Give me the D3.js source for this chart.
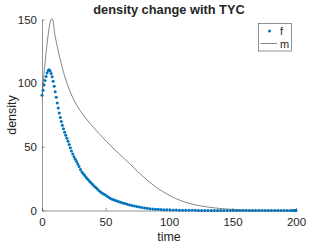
<!DOCTYPE html>
<html>
<head>
<meta charset="utf-8">
<script src="https://cdn.jsdelivr.net/npm/d3@7"></script>
<style>
  body { margin: 0; background: #fff; }
  text { font-family: "Liberation Sans", Arial, sans-serif; fill: #262626; }
</style>
</head>
<body>
<div class="chart"></div>
<script>
// ---- data ----
var fTime = [0, 0.8, 1.6, 2.4, 3.2, 4.0, 4.8, 5.6, 6.4, 7.2, 8.0, 8.8, 9.6, 10.4, 11.2, 12.0, 12.8, 13.6, 14.4, 15.2,
  16.0, 16.9, 17.8, 18.7, 19.6, 20.5, 21.4, 22.3, 23.2, 24.2, 25.2, 26.2, 27.2, 28.2, 29.2, 30.3, 31.4, 32.5, 33.6, 34.8,
  36.0, 37.2, 38.4, 39.7, 41.0, 42.3, 43.6, 45.0, 46.4, 47.8, 49.2, 50.7, 52.2, 53.7, 55.3, 56.9, 58.5, 60.2, 61.9, 63.6,
  65.4, 67.2, 69.0, 70.9, 72.8, 74.7, 76.7, 78.7, 80.8, 82.9, 85.0, 87.2, 89.4, 91.6, 93.9, 96.2, 98.5, 100.9, 103.3, 105.7,
  108.2, 110.7, 113.2, 115.7, 118.2, 120.7, 123.2, 125.7, 128.2, 130.7, 133.2, 135.7, 138.2, 140.7, 143.2, 145.7, 148.2, 150.7,
  153.2, 155.7, 158.2, 160.7, 163.2, 165.7, 168.2, 170.7, 173.2, 175.7, 178.2, 180.7, 183.2, 185.7, 188.2, 190.7, 193.2, 195.7,
  197.5, 198.6, 199.4, 200];
var fValues = [90.5, 94.5, 98.5, 102, 105.3, 108, 110, 110.5, 109.5, 107.5, 105, 101.5, 97.5, 93.2, 89, 84.5, 80.5, 76.5, 73, 69.8,
  67, 64.2, 61.5, 59, 56.8, 54.3, 51.8, 49.3, 46.8, 44.3, 42.2, 40.2, 38.4, 36.5, 34.5, 32.2, 30.3, 28.8, 27.4, 26,
  24.6, 23.2, 22, 20.6, 19.3, 18.1, 16.9, 15.5, 14.4, 13.4, 12.5, 11.5, 10.6, 9.6, 8.9, 8.2, 7.6, 7.0, 6.4, 5.9,
  5.4, 4.9, 4.4, 3.9, 3.5, 3.1, 2.7, 2.4, 2.0, 1.7, 1.45, 1.25, 1.05, 0.9, 0.75, 0.62, 0.52, 0.43, 0.36, 0.3,
  0.25, 0.2, 0.17, 0.14, 0.12, 0.1, 0.08, 0.07, 0.06, 0.05, 0.04, 0.035, 0.03, 0.025, 0.02, 0.018, 0.015, 0.012,
  0.01, 0.01, 0.008, 0.007, 0.006, 0.005, 0.004, 0.004, 0.003, 0.003, 0.002, 0.002, 0.002, 0.001, 0.001, 0.001, 0.001, 0.001,
  0, 0, 0, 0];

var mTime = [0, 1, 2, 3, 4, 5, 6, 7, 7.7, 8.5, 10, 12, 14, 16, 18, 20, 22.5, 25, 30, 35,
  40, 45, 50, 55, 60, 65, 70, 75, 80, 85, 90, 95, 100, 110, 120, 130, 140, 150, 160, 170, 185, 200];
var mValues = [90, 101, 112, 122, 131, 139, 145.5, 149.5, 150.5, 150, 139, 129, 120, 112, 105, 99, 92.5, 87, 78.5, 71.8,
  65.8, 60.3, 55, 50, 45.2, 40.5, 35.8, 30.8, 26.3, 22, 18.2, 15, 12, 7.5, 4.6, 2.8, 1.6, 0.8, 0.35, 0.15, 0.05, 0];

var seriesNames = ['f', 'm'];
var xTicks = [0, 50, 100, 150, 200];
var yTicks = [0, 50, 100, 150];

// ---- layout ----
var w = 327, h = 245;
var plotL = 42, plotR = 296, plotT = 19.5, plotB = 210.5;
var blue = '#0072BD';

var svg = d3.select('.chart').append('svg')
  .attr('width', w)
  .attr('height', h);

var x = d3.scaleLinear().domain([0, 200]).range([plotL, plotR]);
var y = d3.scaleLinear().domain([0, 150]).range([plotB, plotT]);

/*---------------------------AXES--------------------------*/

var xAxis = svg.append('g')
  .attr('transform', 'translate(0,' + plotB + ')')
  .call(d3.axisBottom(x).tickValues(xTicks).tickSizeInner(-2.5).tickSizeOuter(0).tickPadding(6));

var yAxis = svg.append('g')
  .attr('transform', 'translate(' + plotL + ',0)')
  .call(d3.axisLeft(y).tickValues(yTicks).tickSizeInner(-2.5).tickSizeOuter(0).tickPadding(5));

[xAxis, yAxis].forEach(function(a) {
  a.selectAll('path, line').attr('stroke', '#262626').attr('stroke-width', 0.5);
  a.selectAll('text').attr('font-size', 11.5).attr('fill', '#262626')
    .style('font-family', '"Liberation Sans", Arial, sans-serif');
});
xAxis.selectAll('text').attr('dy', '0.71em').attr('y', 7);

/*---------------------------SERIES--------------------------*/

var mLine = d3.line()
  .x(function(d, i) { return x(mTime[i]); })
  .y(function(d) { return y(d); })
  .curve(d3.curveMonotoneX);

svg.append('path')
  .datum(mValues)
  .attr('d', mLine)
  .attr('fill', 'none')
  .attr('stroke', '#333')
  .attr('stroke-width', 0.6);

svg.selectAll('.fdot').data(fValues)
  .enter()
  .append('circle')
  .attr('class', 'fdot')
  .attr('cx', function(d, i) { return x(fTime[i]); })
  .attr('cy', function(d) { return y(d); })
  .attr('r', 1.5)
  .attr('fill', blue);

/*---------------------------TEXT--------------------------*/

svg.append('text')
  .attr('x', 169).attr('y', 14)
  .attr('text-anchor', 'middle')
  .attr('font-size', 12.8)
  .attr('font-weight', 'bold')
  .attr('fill', '#000')
  .text('density change with TYC');

svg.append('text')
  .attr('x', (plotL + plotR) / 2).attr('y', 241)
  .attr('text-anchor', 'middle')
  .attr('font-size', 12.5)
  .text('time');

svg.append('text')
  .attr('transform', 'translate(16,' + ((plotT + plotB) / 2) + ') rotate(-90)')
  .attr('text-anchor', 'middle')
  .attr('font-size', 12.5)
  .text('density');

/*---------------------------LEGEND--------------------------*/

var legend = svg.append('g').attr('transform', 'translate(258.5,23.5)');

legend.append('rect')
  .attr('width', 33).attr('height', 27.5)
  .attr('fill', '#fff')
  .attr('stroke', '#262626')
  .attr('stroke-width', 0.5);

legend.append('circle')
  .attr('cx', 11).attr('cy', 7.5).attr('r', 1.5)
  .attr('fill', blue);

legend.append('line')
  .attr('x1', 2).attr('x2', 18.5).attr('y1', 20).attr('y2', 20)
  .attr('stroke', '#333').attr('stroke-width', 0.6);

legend.selectAll('.ltext').data(seriesNames)
  .enter()
  .append('text')
  .attr('x', 21.5)
  .attr('y', function(d, i) { return 11.5 + i * 12.5; })
  .attr('font-size', 11)
  .attr('fill', '#000')
  .text(function(d) { return d; });
</script>
</body>
</html>
